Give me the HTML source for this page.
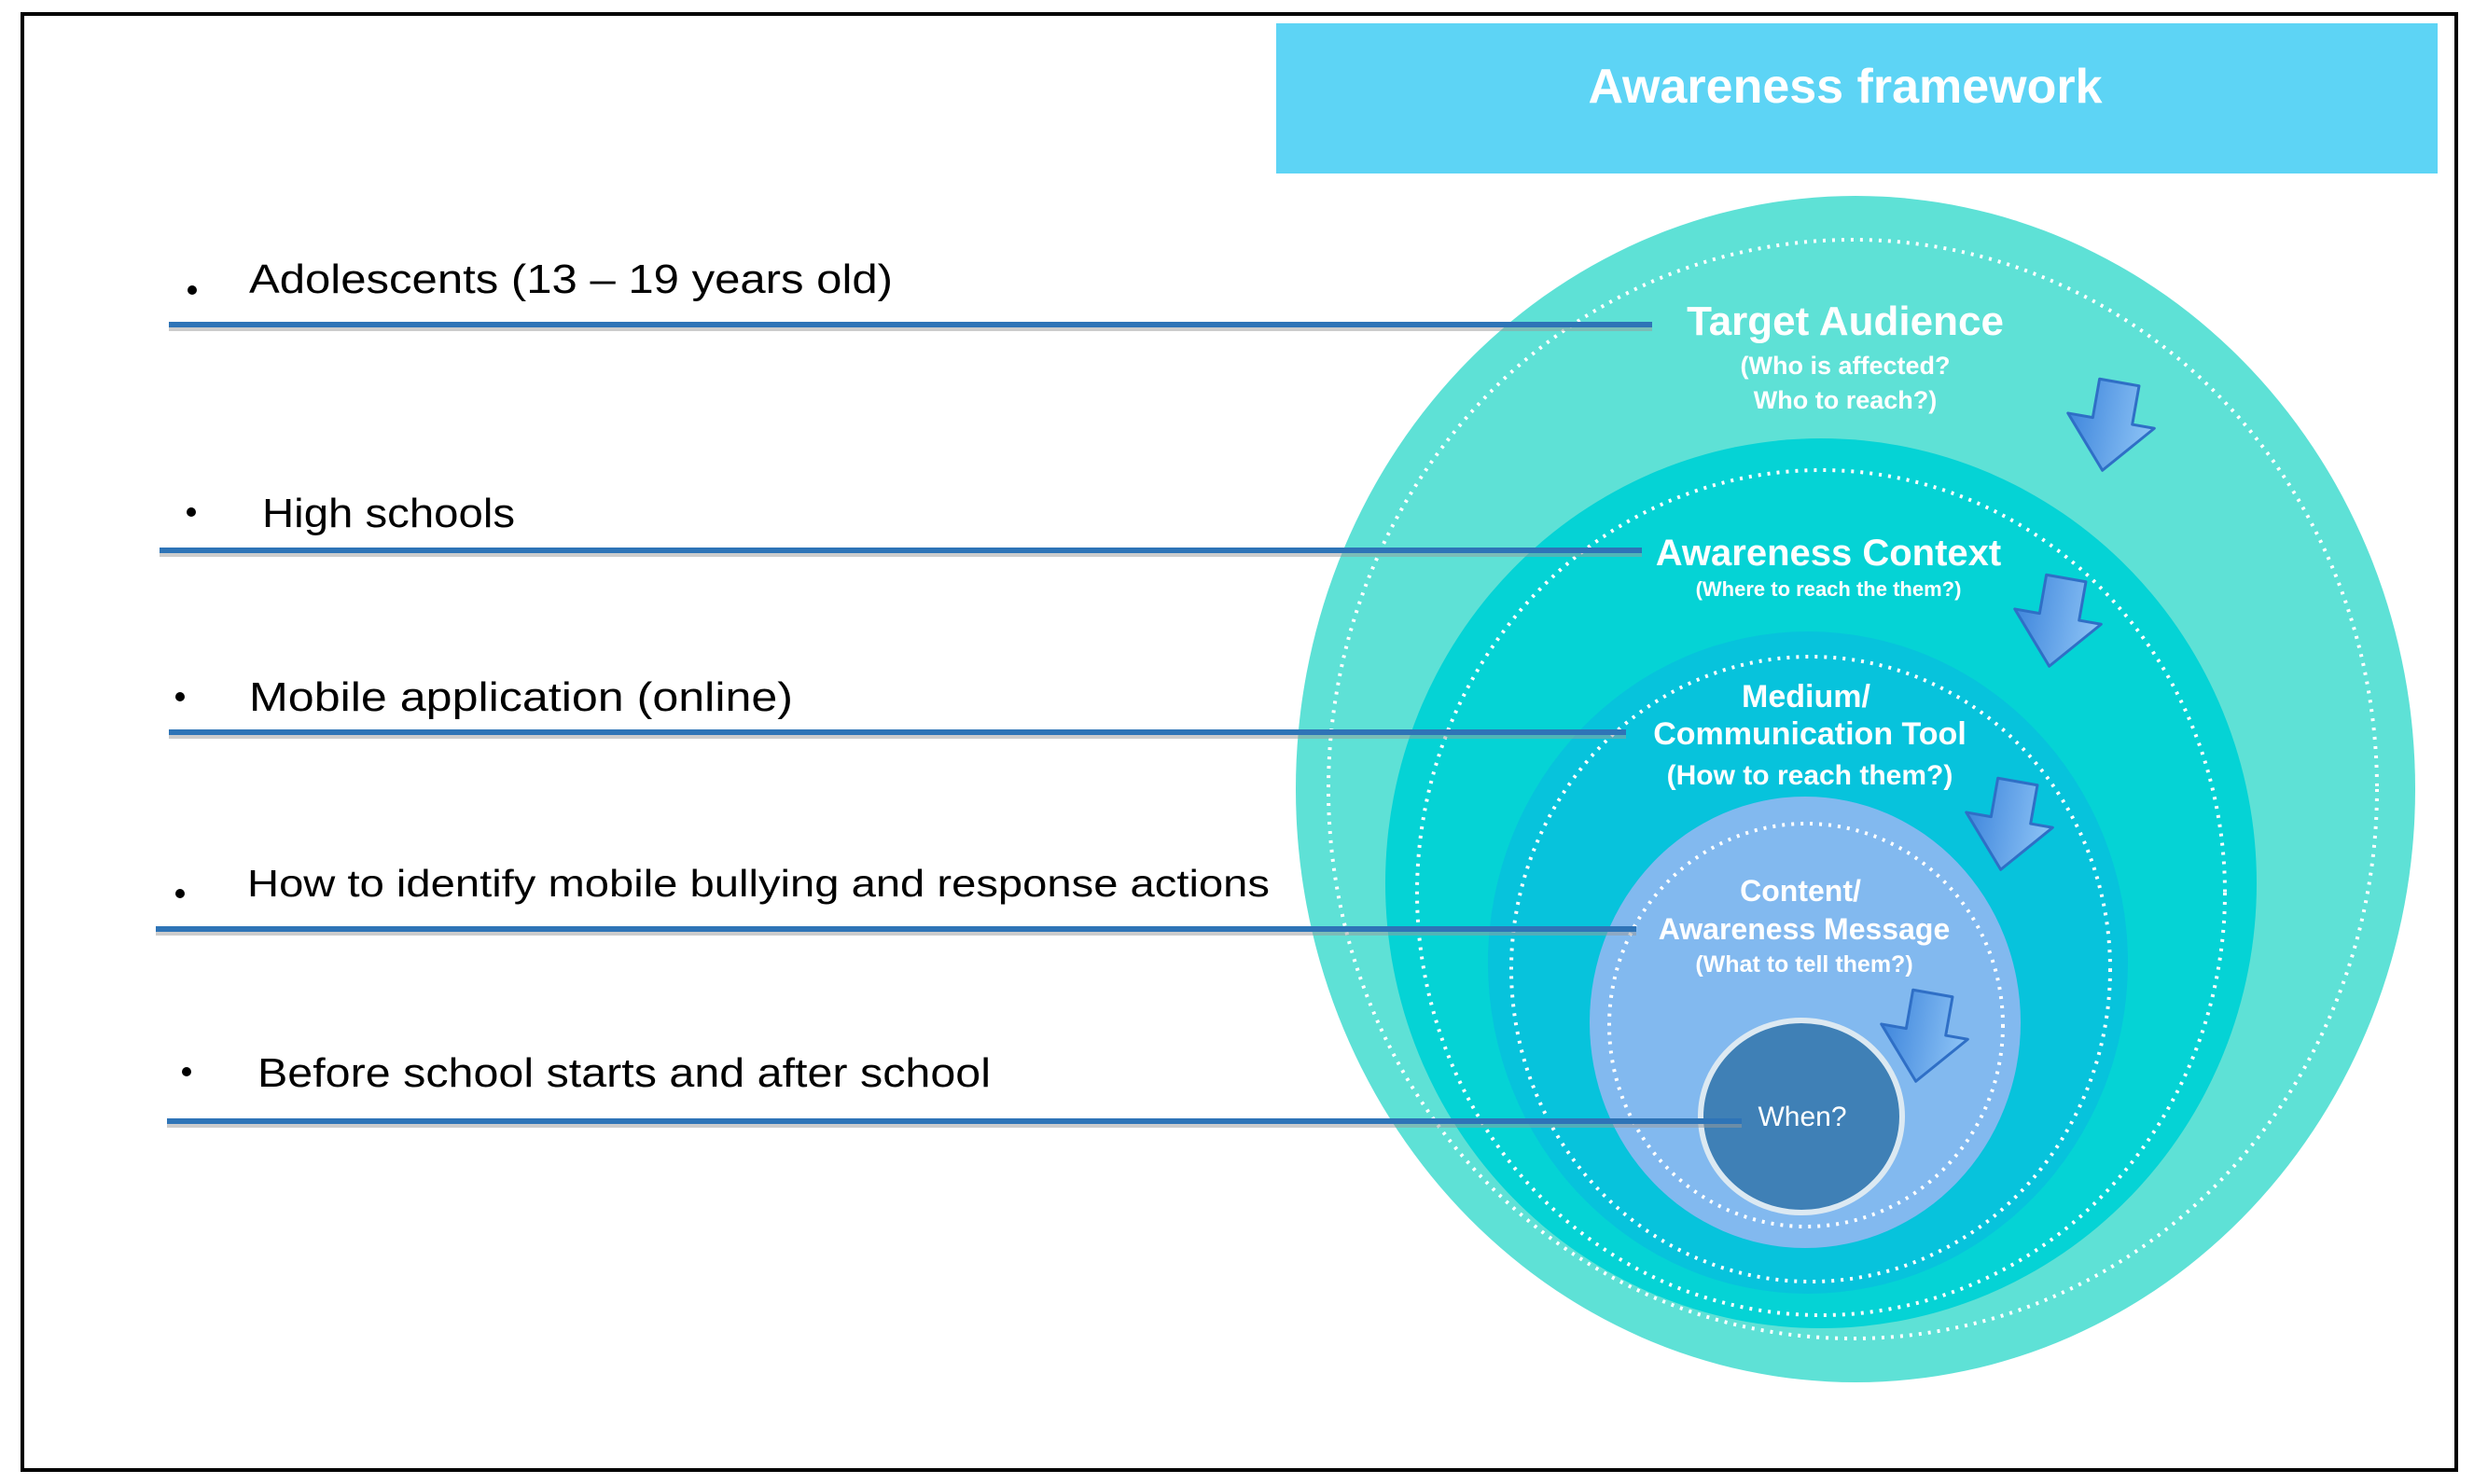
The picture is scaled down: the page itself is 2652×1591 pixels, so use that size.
<!DOCTYPE html>
<html><head><meta charset="utf-8"><style>
html,body{margin:0;padding:0;background:#fff;}
svg{display:block;}
</style></head><body>
<svg width="2652" height="1591" viewBox="0 0 2652 1591" xmlns="http://www.w3.org/2000/svg">
<defs>
<linearGradient id="ag" x1="0" y1="0" x2="1" y2="0">
<stop offset="0" stop-color="#3f86dc"/><stop offset="1" stop-color="#8ec4f6"/>
</linearGradient>
<g id="arr">
<path d="M-20,-48 L23,-48 L23,-6 L47,-6 L0,48 L-47,-6 L-20,-6 Z" fill="url(#ag)" stroke="#2f6fc6" stroke-width="3" stroke-linejoin="round"/>
</g>
</defs>
<rect x="0" y="0" width="2652" height="1591" fill="#fff"/>
<rect x="24" y="15" width="2609" height="1561" fill="none" stroke="#000" stroke-width="4"/>
<rect x="1368" y="25" width="1245" height="161" fill="#5dd4f5"/>
<text x="1978" y="110" text-anchor="middle" font-family="Liberation Sans, sans-serif" font-weight="bold" font-size="52" fill="#fff">Awareness framework</text>

<ellipse cx="1989" cy="846" rx="600" ry="636" fill="#5ee1d6"/>
<ellipse cx="1986" cy="846" rx="562" ry="589" fill="none" stroke="#fff" stroke-width="4" stroke-dasharray="3 7"/>
<ellipse cx="1952" cy="947" rx="467" ry="477" fill="#05d3d5"/>
<ellipse cx="1952" cy="957" rx="433" ry="453" fill="none" stroke="#fff" stroke-width="4" stroke-dasharray="3 7"/>
<ellipse cx="1938" cy="1032" rx="343" ry="355" fill="#07c3dc"/>
<ellipse cx="1941" cy="1039" rx="321" ry="335" fill="none" stroke="#fff" stroke-width="4" stroke-dasharray="3 7"/>
<ellipse cx="1935" cy="1096" rx="231" ry="242" fill="#82b9ef"/>
<ellipse cx="1936" cy="1099" rx="211" ry="216" fill="none" stroke="#fff" stroke-width="4" stroke-dasharray="3 7"/>
<ellipse cx="1931" cy="1197" rx="108" ry="103" fill="#3f80b6" stroke="#dce9f2" stroke-width="6"/>

<g font-family="Liberation Sans, sans-serif" fill="#fff" text-anchor="middle" font-weight="bold">
<text x="1978" y="359" font-size="44">Target Audience</text>
<text x="1978" y="401" font-size="27">(Who is affected?</text>
<text x="1978" y="438" font-size="27">Who to reach?)</text>
<text x="1960" y="606" font-size="40">Awareness Context</text>
<text x="1960" y="639" font-size="22">(Where to reach the them?)</text>
<text x="1936" y="758" font-size="34">Medium/</text>
<text x="1940" y="798" font-size="34">Communication Tool</text>
<text x="1940" y="841" font-size="30">(How to reach them?)</text>
<text x="1930" y="966" font-size="32">Content/</text>
<text x="1934" y="1007" font-size="32">Awareness Message</text>
<text x="1934" y="1042" font-size="25">(What to tell them?)</text>
</g>
<text x="1932" y="1207" font-family="Liberation Sans, sans-serif" fill="#fff" text-anchor="middle" font-size="30">When?</text>

<use href="#arr" transform="translate(2262,457) rotate(10)"/>
<use href="#arr" transform="translate(2205,667) rotate(10)"/>
<use href="#arr" transform="translate(2153,885) rotate(10)"/>
<use href="#arr" transform="translate(2062,1112) rotate(10)"/>

<g stroke="#9a9a9a" stroke-width="4" opacity="0.5">
<line x1="181" y1="353" x2="1771" y2="353"/>
<line x1="171" y1="595" x2="1760" y2="595"/>
<line x1="181" y1="790" x2="1743" y2="790"/>
<line x1="167" y1="1001" x2="1754" y2="1001"/>
<line x1="179" y1="1207" x2="1867" y2="1207"/>
</g>
<g stroke="#2e74b7" stroke-width="6">
<line x1="181" y1="348" x2="1771" y2="348"/>
<line x1="171" y1="590" x2="1760" y2="590"/>
<line x1="181" y1="785" x2="1743" y2="785"/>
<line x1="167" y1="996" x2="1754" y2="996"/>
<line x1="179" y1="1202" x2="1867" y2="1202"/>
</g>

<g fill="#000">
<circle cx="206" cy="311" r="5"/>
<circle cx="205" cy="549" r="5"/>
<circle cx="193" cy="747" r="5"/>
<circle cx="193" cy="958" r="5"/>
<circle cx="200" cy="1149" r="5"/>
</g>
<g font-family="Liberation Sans, sans-serif" fill="#000" font-size="44">
<text x="267" y="314" textLength="690" lengthAdjust="spacingAndGlyphs">Adolescents (13 – 19 years old)</text>
<text x="281" y="565" textLength="271" lengthAdjust="spacingAndGlyphs">High schools</text>
<text x="267" y="762" textLength="583" lengthAdjust="spacingAndGlyphs">Mobile application (online)</text>
<text x="265" y="961" font-size="41" textLength="1096" lengthAdjust="spacingAndGlyphs">How to identify mobile bullying and response actions</text>
<text x="276" y="1165" textLength="786" lengthAdjust="spacingAndGlyphs">Before school starts and after school</text>
</g>
</svg>
</body></html>
